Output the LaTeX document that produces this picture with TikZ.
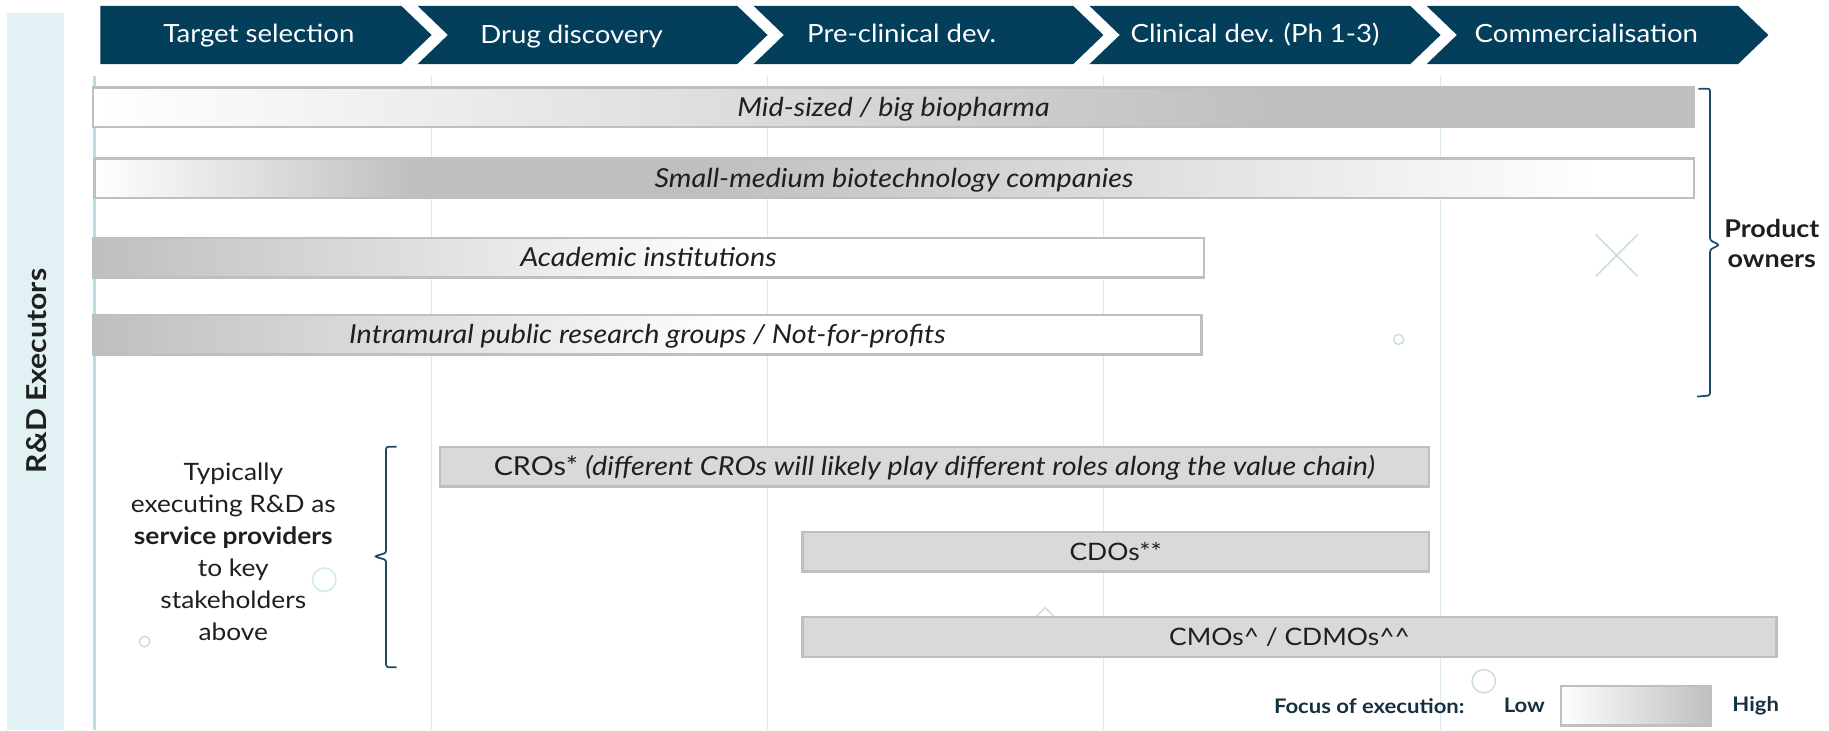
\documentclass[tikz,border=0pt]{standalone}
\usepackage{fontspec}
\setmainfont{Lato}[FakeStretch=1.1]
\definecolor{navy}{HTML}{033F5B}
\definecolor{panel}{HTML}{E2F1F3}
\definecolor{barg}{HTML}{BFBFBF}
\definecolor{flatg}{HTML}{D9D9D9}
\definecolor{gridc}{HTML}{DAE8F2}
\definecolor{gridl}{HTML}{B5DEE5}
\definecolor{bracec}{HTML}{1D4A66}
\definecolor{txt}{HTML}{1F1F1F}
\definecolor{legtxt}{HTML}{15303F}
\definecolor{decoc}{HTML}{CCDCE5}
\definecolor{mint}{HTML}{D2EFE6}
\pgfdeclarehorizontalshading{midbig}{100bp}{color(0bp)=(white); color(25bp)=(white); color(62bp)=(barg); color(75bp)=(barg); color(100bp)=(barg)}
\pgfdeclarehorizontalshading{smallmed}{100bp}{color(0bp)=(white); color(25bp)=(white); color(35bp)=(barg); color(44bp)=(barg); color(72bp)=(white); color(100bp)=(white)}
\pgfdeclarehorizontalshading{academ}{100bp}{color(0bp)=(barg); color(25bp)=(barg); color(54bp)=(white); color(100bp)=(white)}
\pgfdeclarehorizontalshading{legsh}{100bp}{color(0bp)=(white); color(25bp)=(white); color(75bp)=(barg); color(100bp)=(barg)}
\begin{document}
\begin{tikzpicture}[x=1pt,y=-1pt,
  chev/.style={fill=navy, draw=none},
  chevtext/.style={text=white, font=\fontsize{21.5}{24}\selectfont, inner sep=0pt, text height=17pt, text depth=3.6pt},
  barbox/.style={draw=barg, line width=2pt, minimum height=34pt, inner sep=0pt, text=txt, font=\fontsize{22.4}{24}\selectfont, text height=20.5pt, text depth=5pt},
  flatbar/.style={barbox, fill=flatg},
  gridline/.style={draw=gridc, line width=1.5pt},
  bracel/.style={draw=bracec, line width=1.5pt, rounded corners=2pt},
  deco/.style={draw=decoc, line width=1.3pt},
  legendtext/.style={text=legtxt, font=\fontsize{17.2}{19}\selectfont\bfseries, inner sep=0pt}
]
\useasboundingbox (0,0) rectangle (1568,626);
% left panel
\fill[panel] (6,11) rectangle (55,626);
\node[rotate=90, font=\fontsize{23.5}{26}\selectfont\bfseries, text=txt, inner sep=0pt] (rd) at (31,318) {R\&D Executors};
% grid lines
\draw[draw=gridl, line width=2pt] (81,65) -- (81,626);
\foreach \gx in {370,658,946,1235} {\draw[gridline] (\gx,65) -- (\gx,626);}
% chevrons
\fill[chev] (86,5) -- (344,5) -- (370,30) -- (344,55) -- (86,55) -- cycle;
\fill[chev] (358,5) -- (632,5) -- (658,30) -- (632,55) -- (358,55) -- (384,30) -- cycle;
\fill[chev] (646,5) -- (920,5) -- (946,30) -- (920,55) -- (646,55) -- (672,30) -- cycle;
\fill[chev] (934,5) -- (1209,5) -- (1235,30) -- (1209,55) -- (934,55) -- (960,30) -- cycle;
\fill[chev] (1223,5) -- (1490,5) -- (1516,30) -- (1490,55) -- (1223,55) -- (1249,30) -- cycle;
\node[chevtext] (c1) at (222,30) {Target selection};
\node[chevtext] (c2) at (490,31) {Drug discovery};
\node[chevtext] (c3) at (773,30) {Pre-clinical dev.};
\node[chevtext] (c4) at (1076,30) {Clinical dev. (Ph 1-3)};
\node[chevtext] (c5) at (1360,30) {Commercialisation};
% decorations
\draw[draw=mint, line width=1.5pt] (278,497) circle[radius=10];
\draw[deco] (124,550) circle[radius=4.5];
\draw[deco] (1199,291) circle[radius=4.3];
\draw[deco] (1272,584) circle[radius=10];
\draw[deco] (1368,201) -- (1404,237) (1368,237) -- (1404,201);
\draw[deco] (888,529) -- (896,521) -- (904,529);
% product owner bars
\node[barbox, shading=midbig, minimum width=1372pt] (mid) at (766,92) {\itshape Mid-sized / big biopharma};
\node[barbox, shading=smallmed, minimum width=1371pt] (small) at (766.5,153) {\itshape Small-medium biotechnology companies};
\node[barbox, shading=academ, minimum width=952pt] (acad) at (556,221) {\itshape Academic institutions};
\node[barbox, shading=academ, minimum width=950pt] (intra) at (555,287) {\itshape Intramural public research groups / Not-for-profits};
% service provider bars
\node[flatbar, minimum width=848pt] (cro) at (801,400) {CROs* \itshape(different CROs will likely play different roles along the value chain)};
\node[flatbar, minimum width=537pt, font=\fontsize{20.6}{24}\selectfont] (cdo) at (956.5,473) {CDOs**};
\node[flatbar, minimum width=835pt, font=\fontsize{20.6}{24}\selectfont] (cmo) at (1105.5,546) {CMOs\textasciicircum{} / CDMOs\textasciicircum\textasciicircum};
% braces
\draw[bracel] (1456,76) -- (1466,76) -- (1466,206) -- (1474,210) -- (1466,214) -- (1466,339) -- (1455,340);
\node[font=\fontsize{21}{26}\selectfont\bfseries, text=txt, align=center, inner sep=0pt] (po) at (1519,209) {Product\\owners};
\draw[bracel] (340,383) -- (331,383) -- (331,474) -- (321,477) -- (331,480) -- (331,572) -- (340,572);
\node[font=\fontsize{20.5}{27.5}\selectfont, text=txt, align=center, inner sep=0pt] (sp) at (200,473) {Typically\\executing R\&D as\\\textbf{service providers}\\to key\\stakeholders\\above};
% legend
\node[legendtext, anchor=west] (foc) at (1092,605) {Focus of execution:};
\node[legendtext, anchor=west] (low) at (1289,605) {Low};
\node[draw=barg, line width=2pt, shading=legsh, minimum width=129pt, minimum height=34pt, inner sep=0pt] (legbox) at (1402.5,605) {};
\node[legendtext, anchor=west] (high) at (1485,605) {High};
\end{tikzpicture}
\end{document}
